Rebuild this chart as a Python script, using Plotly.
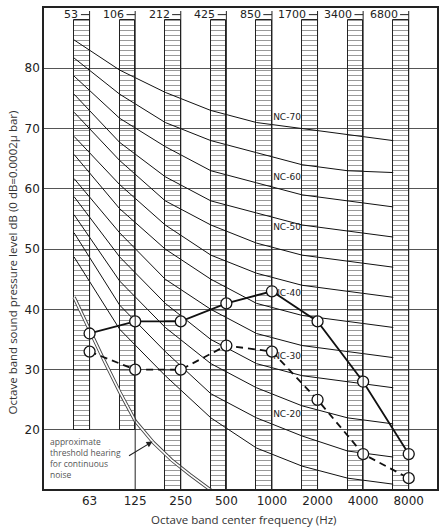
"""
NC-Kurven (Noise Criteria) mit zwei gemessenen Oktavband-Spektren.
"""
import plotly.graph_objects as go

FREQ_LABELS = ['63', '125', '250', '500', '1000', '2000', '4000', '8000']
BAND_LABELS = ['53', '106', '212', '425', '850', '1700', '3400', '6800']
OCTAVE_POS = [1, 2, 3, 4, 5, 6, 7, 8]

# schraffierte Spalten (dB)
BAR_TOP = [88, 88, 88, 88, 88, 88, 88, 88]
BAR_BOTTOM = [20, 20, 10, 10, 10, 10, 10, 10]
CENTER_LINE_TOP = 89.5
CENTER_LINE_BOTTOM = [20, 10, 10, 10, 10, 10, 10, 10]
BAR_WIDTH = 0.34

# NC-Kurven, Stuetzpunkte am linken Rand jeder Spalte
NC15 = [48.7, 36.7, 29, 22, 17, 14, 12, 11]
NC20 = [52.7, 40.7, 33, 26, 22, 19, 16.5, 15.5]
NC25 = [55.7, 44.7, 37, 31, 27, 24, 22, 21]
NC30 = [58.7, 48.7, 41, 35, 31, 29, 28, 27]
NC35 = [61.7, 52.7, 45, 40, 36, 34, 33, 32]
NC40 = [65.7, 56.7, 50, 45, 41, 39, 38, 37]
NC45 = [68.7, 60.7, 54, 49, 46, 44, 43, 42]
NC50 = [72.7, 64.7, 58, 54, 51, 49, 48, 47]
NC55 = [75.7, 67.7, 62, 58, 56, 54, 53, 52]
NC60 = [78.7, 71.7, 67, 63, 61, 59, 58, 57]
NC65 = [81.7, 75.7, 71, 68, 66, 64, 63, 62.7]
NC70 = [84.7, 79.7, 76, 73, 71, 70, 69, 68]
NC_CURVES = [NC15, NC20, NC25, NC30, NC35, NC40,
             NC45, NC50, NC55, NC60, NC65, NC70]

NC_LABELS = ['NC-70', 'NC-60', 'NC-50', 'NC-40', 'NC-30', 'NC-20']
NC_LABEL_Y = [71.8, 61.8, 53.6, 42.6, 32.2, 22.5]
NC_LABEL_X = 5.33

# Messwerte
SOLID_DB = [36, 38, 38, 41, 43, 38, 28, 16]
DASHED_DB = [33, 30, 30, 34, 33, 25, 16, 12]

# Hoerschwelle
THRESH_X = [0.66, 1.0, 1.3, 1.66, 2.0, 2.4, 2.8, 3.2, 3.66]
THRESH_DB = [42, 36.5, 31.8, 26.3, 21.5, 17.9, 15.0, 12.6, 10.0]
THRESH_TEXT = 'approximate<br>threshold hearing<br>for continuous<br>noise'

INK = '#222'
TICK_FONT = dict(family='DejaVu Sans', size=12, color=INK)

fig = go.Figure()

fig.add_trace(go.Bar(
    x=[p - BAR_WIDTH / 2 for p in OCTAVE_POS],
    y=[t - b for t, b in zip(BAR_TOP, BAR_BOTTOM)],
    base=BAR_BOTTOM,
    width=BAR_WIDTH,
    marker=dict(
        color='rgba(0,0,0,0)',
        line=dict(color=INK, width=1),
        pattern=dict(shape='-', size=5, solidity=0.2,
                     fgcolor='#333', bgcolor='rgba(0,0,0,0)'),
    ),
    showlegend=False,
    hoverinfo='skip',
))

nc_x = [p - BAR_WIDTH for p in OCTAVE_POS]
for curve in NC_CURVES:
    fig.add_trace(go.Scatter(
        x=nc_x, y=curve, mode='lines',
        line=dict(color='#111', width=1),
        showlegend=False, hoverinfo='skip',
    ))

# Doppellinie der Hoerschwelle
fig.add_trace(go.Scatter(
    x=THRESH_X, y=THRESH_DB, mode='lines',
    line=dict(color='#444', width=3.4),
    showlegend=False, hoverinfo='skip',
))
fig.add_trace(go.Scatter(
    x=THRESH_X, y=THRESH_DB, mode='lines',
    line=dict(color='white', width=1.6),
    showlegend=False, hoverinfo='skip',
))

fig.add_trace(go.Scatter(
    x=[NC_LABEL_X] * len(NC_LABELS), y=NC_LABEL_Y,
    text=NC_LABELS, mode='text', textposition='middle center',
    textfont=dict(family='DejaVu Sans', size=9, color=INK),
    showlegend=False, hoverinfo='skip',
))

fig.add_trace(go.Scatter(
    x=OCTAVE_POS, y=SOLID_DB, mode='lines+markers',
    line=dict(color='#111', width=1.8),
    marker=dict(symbol='circle', size=11, color='white',
                line=dict(color='#111', width=1.3)),
    showlegend=False,
))
fig.add_trace(go.Scatter(
    x=OCTAVE_POS, y=DASHED_DB, mode='lines+markers',
    line=dict(color='#111', width=1.8, dash='7px,5px'),
    marker=dict(symbol='circle', size=11, color='white',
                line=dict(color='#111', width=1.3)),
    showlegend=False,
))

shapes = []
annotations = []
for p, bottom, band in zip(OCTAVE_POS, CENTER_LINE_BOTTOM, BAND_LABELS):
    shapes.append(dict(type='line', x0=p, x1=p, y0=CENTER_LINE_TOP, y1=bottom,
                       line=dict(color=INK, width=1)))
    shapes.append(dict(type='line', x0=p - 0.19, x1=p, y0=88.9, y1=88.9,
                       line=dict(color=INK, width=1)))
    annotations.append(dict(x=p - 0.2, y=88.9, text=band, showarrow=False,
                            xanchor='right', yanchor='middle',
                            font=dict(family='DejaVu Sans', size=11, color=INK)))

annotations.append(dict(x=0.09, y=19.3, text=THRESH_TEXT, showarrow=False,
                        xanchor='left', yanchor='top', align='left',
                        font=dict(family='Open Sans', size=8.5, color='#555')))

annotations.append(dict(x=2.38, y=18.07, ax=-25, ay=15, text='', showarrow=True,
                        arrowhead=2, arrowsize=1.1, arrowwidth=1.1, arrowcolor=INK))

annotations.append(dict(xref='paper', yref='paper', x=-0.08, y=0.47,
                        text='Octave band sound pressure level dB (0 dB=0.0002μ bar)',
                        textangle=-90, showarrow=False,
                        xanchor='center', yanchor='middle',
                        font=dict(family='Open Sans', size=11.5, color='#333')))
annotations.append(dict(xref='paper', yref='paper', x=0.508, y=-0.064,
                        text='Octave band center frequency (Hz)', showarrow=False,
                        xanchor='center', yanchor='middle',
                        font=dict(family='Open Sans', size=11.5, color='#333')))

fig.update_layout(
    width=445, height=529,
    margin=dict(l=44, r=6, t=6, b=40),
    paper_bgcolor='white', plot_bgcolor='white',
    xaxis=dict(
        range=[0, 8.62], showgrid=False, zeroline=False,
        tickvals=OCTAVE_POS, ticktext=FREQ_LABELS, tickfont=TICK_FONT,
        showline=True, mirror=True, linecolor=INK, linewidth=1.5,
    ),
    yaxis=dict(
        range=[10.2, 90], tickvals=[20, 30, 40, 50, 60, 70, 80],
        tickfont=TICK_FONT, showgrid=True, gridcolor='#555', gridwidth=1,
        zeroline=False, showline=True, mirror=True, linecolor=INK, linewidth=1.5,
    ),
    shapes=shapes,
    annotations=annotations,
    bargap=0,
)

fig.write_html('out.html', config={'displayModeBar': False},
               post_script="document.body.style.margin='0';")
